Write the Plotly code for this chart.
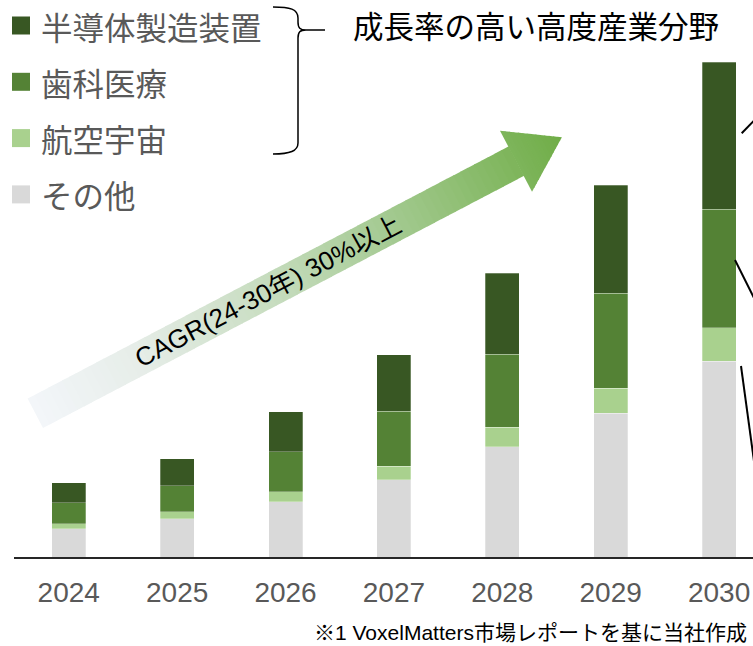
import math
import plotly.graph_objects as go

# ---- data -------------------------------------------------------------
years = [2024, 2025, 2026, 2027, 2028, 2029, 2030]
year_labels = [str(y) for y in years]

other = [28.5, 38.2, 55.2, 77.3, 110.3, 144.0, 195.6]       # その他
aerospace = [5.0, 7.0, 10.3, 13.7, 19.7, 25.0, 33.7]        # 航空宇宙
dental = [20.7, 26.3, 39.7, 55.0, 73.0, 95.0, 118.7]        # 歯科医療
semicon = [20.0, 27.0, 40.0, 56.3, 81.0, 108.0, 146.7]      # 半導体製造装置

series_names = ["その他", "航空宇宙", "歯科医療", "半導体製造装置"]
series_values = [other, aerospace, dental, semicon]
series_colors = ["#D9D9D9", "#A9D18E", "#548235", "#385723"]
legend_order = ["半導体製造装置", "歯科医療", "航空宇宙", "その他"]

title_text = "成長率の高い高度産業分野"
cagr_text = "CAGR(24-30年) 30%以上"
note_text = "※1 VoxelMatters市場レポートを基に当社作成"

# ---- page geometry ----------------------------------------------------
W, H = 753, 646
ML, MR, MT, MB = 14, 0, 0, 89
PW, PH = W - ML - MR, H - MT - MB


def paper(x, y):
    """Pixel position on the page -> paper coordinates."""
    return (x - ML) / PW, (H - MB - y) / PH


def path_from(cmds):
    out = []
    for c, pts in cmds:
        coords = " ".join("%.5f,%.5f" % paper(px, py) for px, py in pts)
        out.append(c + " " + coords if coords else c)
    return " ".join(out)


def polygon(pts):
    cmds = [("M", [pts[0]])] + [("L", [p]) for p in pts[1:]] + [("Z", [])]
    return path_from(cmds)


fig = go.Figure()

for name, vals, col in zip(series_names, series_values, series_colors):
    fig.add_trace(go.Bar(
        x=years, y=vals, name=name, width=0.314,
        marker=dict(color=col, line=dict(color="rgba(255,255,255,0.35)", width=0.8)),
        showlegend=False,
    ))

shapes = []
annotations = []

# ---- custom legend ----------------------------------------------------
color_of = dict(zip(series_names, series_colors))
for i, name in enumerate(legend_order):
    cy = 25.5 + 56.3 * i
    x0, y0 = paper(12, cy + 9)
    x1, y1 = paper(30, cy - 9)
    shapes.append(dict(type="rect", xref="paper", yref="paper",
                       x0=x0, y0=y0, x1=x1, y1=y1,
                       fillcolor=color_of[name], line=dict(width=0)))
    tx, ty = paper(39, cy)
    annotations.append(dict(xref="paper", yref="paper", x=tx, y=ty,
                            text=name, showarrow=False,
                            xanchor="left", yanchor="middle",
                            font=dict(size=31.5, color="#595959",
                                      family="Noto Sans CJK JP")))

# ---- brace grouping the three high-growth segments --------------------
brace = path_from([
    ("M", [(273, 7)]),
    ("C", [(290, 7), (298, 9), (298, 18)]),
    ("L", [(298, 22)]),
    ("C", [(298, 28), (300, 30), (306, 30)]),
    ("L", [(325, 30)]),
    ("M", [(306, 30)]),
    ("C", [(300, 30), (298, 32), (298, 38)]),
    ("L", [(298, 143)]),
    ("C", [(298, 151), (290, 154), (273, 154)]),
])
shapes.append(dict(type="path", xref="paper", yref="paper", path=brace,
                   line=dict(color="#000000", width=1.5)))

tx, ty = paper(351, 25)
annotations.append(dict(xref="paper", yref="paper", x=tx, y=ty,
                        text=title_text, showarrow=False,
                        xanchor="left", yanchor="middle",
                        font=dict(size=30.5, color="#000000",
                                  family="Noto Sans CJK JP")))

# ---- gradient growth arrow --------------------------------------------
tail = (35.3, 413.3)
head_base = (516.0, 161.3)
dx, dy = head_base[0] - tail[0], head_base[1] - tail[1]
shaft_len = math.hypot(dx, dy)
ux, uy = dx / shaft_len, dy / shaft_len
nx, ny = -uy, ux
head_len = 51.8
shaft_hw = 16.6
head_hw = 34.5
total_len = shaft_len + head_len
angle = math.degrees(math.atan2(-dy, dx))

grad_stops = [
    (0.00, (243, 246, 250)),
    (0.20, (230, 237, 232)),
    (0.45, (198, 220, 190)),
    (0.70, (160, 200, 140)),
    (1.00, (112, 173, 71)),
]


def grad_color(t):
    for (t0, c0), (t1, c1) in zip(grad_stops[:-1], grad_stops[1:]):
        if t <= t1:
            f = (t - t0) / (t1 - t0)
            c = [round(a + (b - a) * f) for a, b in zip(c0, c1)]
            return "rgb(%d,%d,%d)" % tuple(c)
    return "rgb(%d,%d,%d)" % grad_stops[-1][1]


def pt(s, w):
    return (tail[0] + s * ux + w * nx, tail[1] + s * uy + w * ny)


n_shaft = 70
for k in range(n_shaft):
    s0 = shaft_len * k / n_shaft
    s1 = min(shaft_len * (k + 1) / n_shaft + 0.8, shaft_len + 0.5)
    p = polygon([pt(s0, -shaft_hw), pt(s1, -shaft_hw),
                 pt(s1, shaft_hw), pt(s0, shaft_hw)])
    shapes.append(dict(type="path", xref="paper", yref="paper", path=p,
                       fillcolor=grad_color((s0 + s1) / 2 / total_len),
                       line=dict(width=0), layer="below"))

n_head = 14
for k in range(n_head):
    d0 = head_len * k / n_head
    d1 = min(head_len * (k + 1) / n_head + 0.8, head_len)
    w0 = head_hw * (1 - d0 / head_len)
    w1 = head_hw * (1 - d1 / head_len)
    s0, s1 = shaft_len + d0, shaft_len + d1
    p = polygon([pt(s0, -w0), pt(s1, -w1), pt(s1, w1), pt(s0, w0)])
    shapes.append(dict(type="path", xref="paper", yref="paper", path=p,
                       fillcolor=grad_color((s0 + s1) / 2 / total_len),
                       line=dict(width=0), layer="below"))

cx, cy = pt(shaft_len * 0.485, 0)
tx, ty = paper(cx, cy)
annotations.append(dict(xref="paper", yref="paper", x=tx, y=ty,
                        text=cagr_text, showarrow=False, textangle=-angle,
                        xanchor="center", yanchor="middle",
                        font=dict(size=26, color="#000000",
                                  family="Liberation Sans, Noto Sans CJK JP")))

# ---- callout lines leaving the 2030 bar -------------------------------
for (x0, y0), (x1, y1) in [((741.7, 133.3), (760, 114.4)),
                           ((735.0, 260.0), (760, 310.0)),
                           ((741.0, 366.0), (760, 505.0))]:
    a0, b0 = paper(x0, y0)
    a1, b1 = paper(x1, y1)
    shapes.append(dict(type="line", xref="paper", yref="paper",
                       x0=a0, y0=b0, x1=a1, y1=b1,
                       line=dict(color="#000000", width=2)))

# ---- source note ------------------------------------------------------
tx, ty = paper(748, 645)
annotations.append(dict(xref="paper", yref="paper", x=tx, y=ty,
                        text=note_text, showarrow=False,
                        xanchor="right", yanchor="bottom", borderpad=0,
                        font=dict(size=21, color="#000000",
                                  family="Liberation Sans, Noto Sans CJK JP")))

fig.update_layout(
    width=W, height=H,
    margin=dict(l=ML, r=MR, t=MT, b=MB, pad=0),
    barmode="stack",
    paper_bgcolor="white", plot_bgcolor="rgba(0,0,0,0)",
    font=dict(family="Liberation Sans, Noto Sans CJK JP"),
    shapes=shapes, annotations=annotations,
    xaxis=dict(range=[2023.495, 2030.313], tickvals=years, ticktext=year_labels,
               showline=True, linecolor="#262626", linewidth=2,
               showgrid=False, zeroline=False, ticks="",
               ticklabelstandoff=9,
               tickfont=dict(size=28, color="#595959", family="Liberation Sans")),
    yaxis=dict(range=[0, PH], visible=False, fixedrange=True),
)

fig.write_html("out.html")
